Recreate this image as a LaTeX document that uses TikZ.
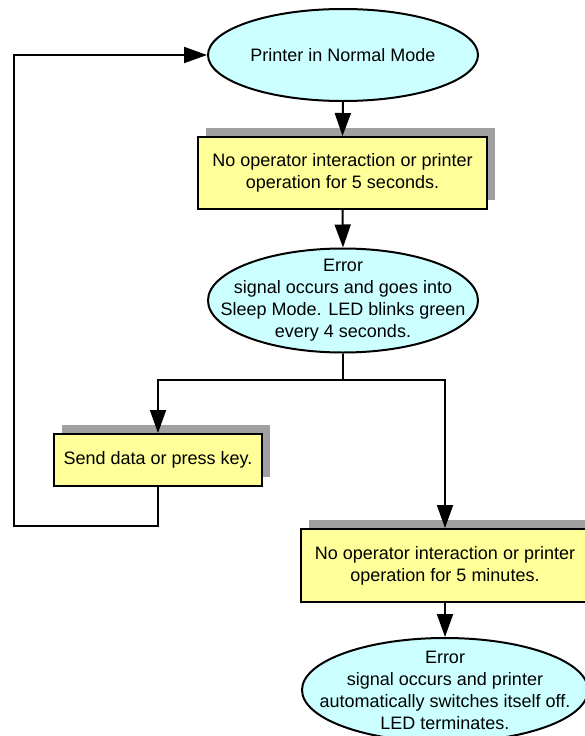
\documentclass[tikz,border=0pt]{standalone}
\usepackage{fontspec}
\setmainfont{Liberation Sans}
\usetikzlibrary{arrows.meta,shadows,shapes.geometric}
\definecolor{ecyan}{HTML}{CCFFFF}
\definecolor{byellow}{HTML}{FFFF99}
\definecolor{shgray}{HTML}{A0A0A0}
\begin{document}
\begin{tikzpicture}[x=1pt,y=-1pt,
  every node/.style={font=\fontsize{18}{22}\selectfont, align=center, inner sep=0pt},
  oval/.style={ellipse, draw=black, line width=2pt, fill=ecyan, inner xsep=-80pt, inner ysep=-40pt},
  stepbox/.style={rectangle, draw=black, line width=2pt, fill=byellow,
     drop shadow={shadow xshift=8pt, shadow yshift=9pt, opacity=1, fill=shgray}},
  conn/.style={line width=2pt, draw=black},
  arr/.style={conn, -{Triangle[length=23pt,width=16pt]}}]
\useasboundingbox (0,0) rectangle (584,736);
\node[oval, minimum width=270pt, minimum height=92pt] (e1) at (343,55) {Printer in Normal Mode};
\node[stepbox, minimum width=289pt, minimum height=72pt] (b1) at (342.5,173) {No operator interaction or printer\\operation for 5 seconds.};
\node[oval, minimum width=270pt, minimum height=104pt] (e2) at (343,300.5) {Error\\signal occurs and goes into\\Sleep Mode. LED blinks green\\every 4 seconds.};
\node[stepbox, minimum width=208pt, minimum height=52pt] (b3) at (158,460) {Send data or press key.};
\node[stepbox, minimum width=288pt, minimum height=73pt] (b4) at (445,565.5) {No operator interaction or printer\\operation for 5 minutes.};
\node[oval, minimum width=286pt, minimum height=104pt] (e3) at (445,690) {Error\\signal occurs and printer\\automatically switches itself off.\\LED terminates.};
\coordinate (j) at (343,380);
\coordinate (lb) at (14,526);
\draw[arr] (e1.south) -- (b1.north);
\draw[arr] (b1.south) -- (e2.north);
\draw[conn] (e2.south) -- (j);
\draw[arr] (j) -| (b3.north);
\draw[arr] (j) -| (b4.north);
\draw[arr] (b4.south) -- (e3.north);
\draw[arr] (b3.south) |- (lb) |- (e1.west);
\end{tikzpicture}
\end{document}
